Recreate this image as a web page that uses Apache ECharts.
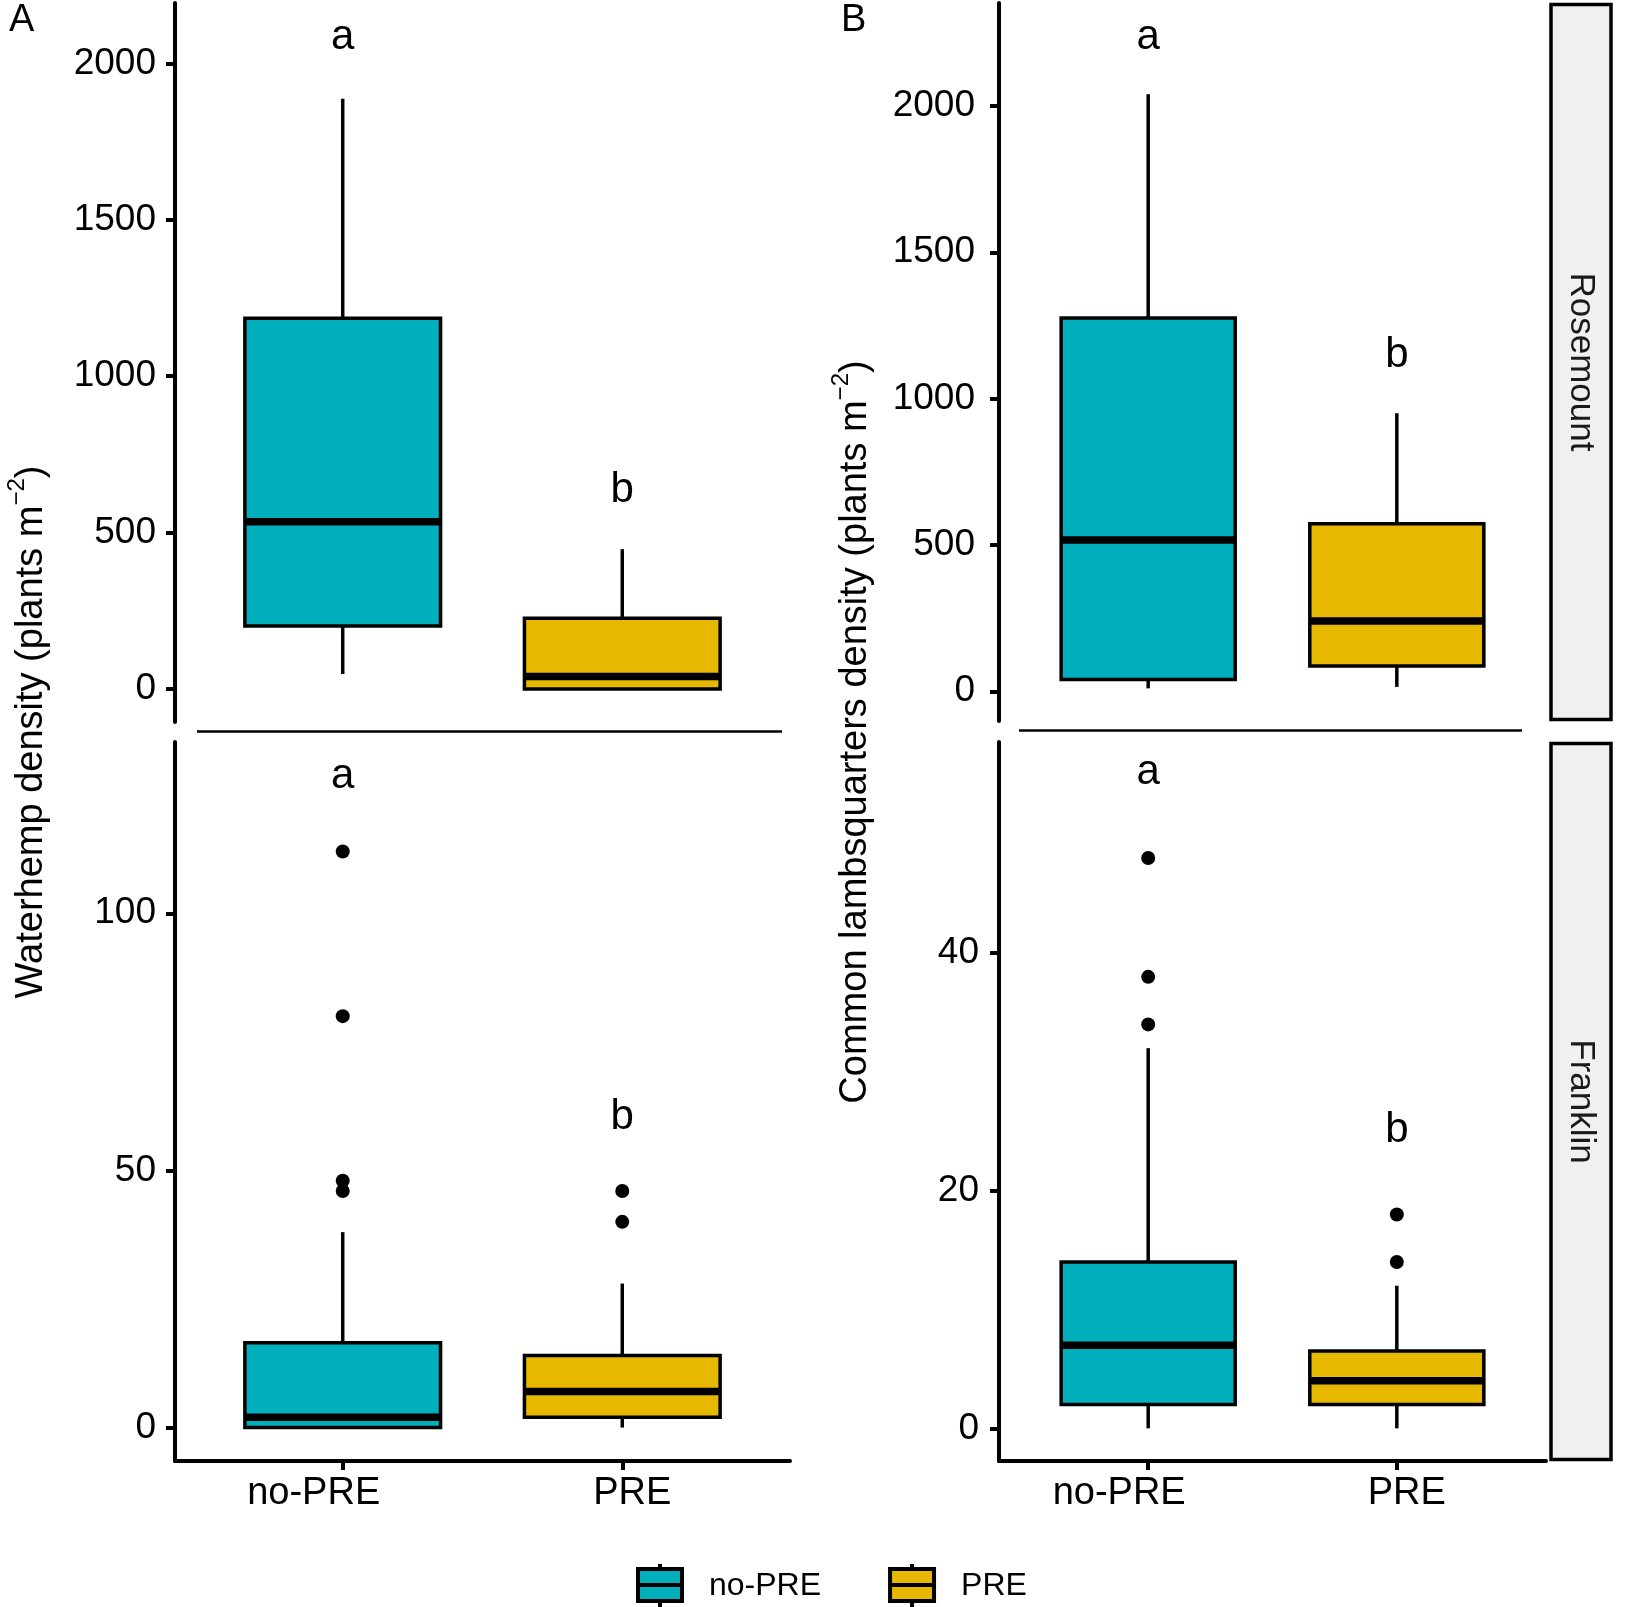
<!DOCTYPE html>
<html><head><meta charset="utf-8">
<script src="https://cdn.jsdelivr.net/npm/echarts@6/dist/echarts.min.js"></script>
<style>html,body{margin:0;padding:0;background:#fff}#c{width:1633px;height:1607px}</style>
</head><body><div id="c"></div>
<script>
// ---------- data ----------
const categories = ['no-PRE', 'PRE'];
const groupColors = ['#00AFBB', '#E7B800'];
// box stats per group: [lower whisker, Q1, median, Q3, upper whisker]
const waterhempRosemount = [[48, 201, 535, 1185, 1887], [0, 0, 40, 226, 447]];
const waterhempFranklin  = [[0, 0, 2, 16.5, 38], [0, 2, 7, 14, 28]];
const lambsRosemount     = [[10, 40, 517, 1275, 2040], [15, 86, 240, 572, 950]];
const lambsFranklin      = [[0, 2, 7, 14, 32], [0, 2, 4, 6.5, 12]];
// outliers per group
const waterhempRosemountOutliers = [[], []];
const waterhempFranklinOutliers  = [[112, 80, 48, 46], [46, 40]];
const lambsRosemountOutliers     = [[], []];
const lambsFranklinOutliers      = [[48, 38, 34], [18, 14]];
// significance letters per group: [letter, value]
const waterhempRosemountLetters = [['a', 2084], ['b', 636]];
const waterhempFranklinLetters  = [['a', 126.7], ['b', 60.4]];
const lambsRosemountLetters     = [['a', 2235], ['b', 1149]];
const lambsFranklinLetters      = [['a', 55.2], ['b', 25.1]];
// y tick labels
const ticksRosemount = [0, 500, 1000, 1500, 2000];
const ticksWaterhempFranklin = [0, 50, 100];
const ticksLambsFranklin = [0, 20, 40];
const locations = ['Rosemount', 'Franklin'];
const panelLetters = ['A', 'B'];
const yTitleA = 'Waterhemp density (plants m{sup|\u22122})';
const yTitleB = 'Common lambsquarters density (plants m{sup|\u22122})';

// ---------- layout ----------
const FONT = 'Liberation Sans, Arial, sans-serif';
const BOX_WIDTH = 0.7;
const LW = 3.5;
const panels = [
  {grid: {left: 175, top: 3, width: 615, height: 719}, y: [-105.5, 2193], ticks: ticksRosemount, box: waterhempRosemount, out: waterhempRosemountOutliers, let: waterhempRosemountLetters, bottom: false, labelMargin: 19},
  {grid: {left: 175, top: 742, width: 615, height: 719}, y: [-6.5, 133.3], ticks: ticksWaterhempFranklin, box: waterhempFranklin, out: waterhempFranklinOutliers, let: waterhempFranklinLetters, bottom: true, labelMargin: 19},
  {grid: {left: 999, top: 3, width: 547, height: 718}, y: [-101.5, 2351.6], ticks: ticksRosemount, box: lambsRosemount, out: lambsRosemountOutliers, let: lambsRosemountLetters, bottom: false, labelMargin: 24},
  {grid: {left: 999, top: 742, width: 547, height: 719}, y: [-2.75, 57.77], ticks: ticksLambsFranklin, box: lambsFranklin, out: lambsFranklinOutliers, let: lambsFranklinLetters, bottom: true, labelMargin: 20}
];
const xLabelPad = [[0, 58, 0, 0], [0, 0, 0, 20]];

function renderBox(params, api) {
  const x = api.value(0);
  const lo = api.coord([x, api.value(1)]);
  const q1 = api.coord([x, api.value(2)]);
  const md = api.coord([x, api.value(3)]);
  const q3 = api.coord([x, api.value(4)]);
  const hi = api.coord([x, api.value(5)]);
  const w = api.size([BOX_WIDTH, 0])[0];
  const cx = md[0];
  const color = api.visual('color');
  return {type: 'group', children: [
    {type: 'line', shape: {x1: cx, y1: hi[1], x2: cx, y2: q3[1]}, style: {stroke: '#000', lineWidth: LW}},
    {type: 'line', shape: {x1: cx, y1: q1[1], x2: cx, y2: lo[1]}, style: {stroke: '#000', lineWidth: LW}},
    {type: 'rect', shape: {x: cx - w / 2, y: q3[1], width: w, height: q1[1] - q3[1]}, style: {fill: color, stroke: '#000', lineWidth: LW}},
    {type: 'line', shape: {x1: cx - w / 2, y1: md[1], x2: cx + w / 2, y2: md[1]}, style: {stroke: '#000', lineWidth: 7.5}}
  ]};
}

const grids = [], xAxes = [], yAxes = [], series = [];
panels.forEach((p, i) => {
  grids.push(Object.assign({containLabel: false}, p.grid));
  xAxes.push({
    type: 'value', gridIndex: i, min: 0.4, max: 2.6, show: p.bottom,
    axisLine: {show: true, onZero: false, lineStyle: {color: '#000', width: 4}},
    axisTick: {show: true, length: 9, customValues: [1, 2], lineStyle: {color: '#000', width: 4}},
    axisLabel: {
      show: true, customValues: [1, 2], margin: 14,
      formatter: v => '{c' + (v - 1) + '|' + categories[v - 1] + '}',
      rich: {
        c0: {fontSize: 38, fontFamily: FONT, color: '#000', padding: xLabelPad[0]},
        c1: {fontSize: 38, fontFamily: FONT, color: '#000', padding: xLabelPad[1]}
      }
    },
    splitLine: {show: false}
  });
  yAxes.push({
    type: 'value', gridIndex: i, min: p.y[0], max: p.y[1],
    axisLine: {show: true, lineStyle: {color: '#000', width: 4}},
    axisTick: {show: true, length: 9, customValues: p.ticks, lineStyle: {color: '#000', width: 4}},
    axisLabel: {customValues: p.ticks, formatter: v => String(v), fontSize: 37, fontFamily: FONT, color: '#000', margin: p.labelMargin},
    splitLine: {show: false}
  });
  categories.forEach((cat, g) => {
    series.push({
      type: 'custom', name: cat, xAxisIndex: i, yAxisIndex: i,
      itemStyle: {color: groupColors[g]},
      renderItem: renderBox,
      encode: {x: 0, y: [1, 2, 3, 4, 5]},
      data: [[g + 1].concat(p.box[g])],
      z: 2
    });
    series.push({
      type: 'scatter', name: 'outliers', xAxisIndex: i, yAxisIndex: i,
      symbolSize: 14, itemStyle: {color: '#000', opacity: 1},
      data: p.out[g].map(v => [g + 1, v]), z: 3
    });
  });
  series.push({
    type: 'scatter', name: 'letters', xAxisIndex: i, yAxisIndex: i,
    symbolSize: 0, itemStyle: {opacity: 1},
    label: {show: true, position: 'inside', formatter: q => q.value[2], fontSize: 42, fontFamily: FONT, color: '#000', opacity: 1},
    data: p.let.map((l, g) => [g + 1, l[1], l[0]]), z: 4
  });
});

// hidden grids carrying the shared y-axis titles
[[175, 615, yTitleA], [999, 547, yTitleB]].forEach((t, k) => {
  const gi = grids.length;
  grids.push({left: t[0], top: 3, width: t[1], height: 1458});
  xAxes.push({type: 'value', gridIndex: gi, show: false, min: 0, max: 1});
  yAxes.push({
    type: 'value', gridIndex: gi, min: 0, max: 1,
    axisLine: {show: false}, axisTick: {show: false}, axisLabel: {show: false}, splitLine: {show: false},
    name: t[2], nameLocation: 'middle', nameGap: 116,
    nameTextStyle: {
      fontSize: 38, fontFamily: FONT, color: '#000',
      rich: {sup: {fontSize: 24, fontFamily: FONT, color: '#000', padding: [0, 0, 30, 0]}}
    }
  });
});

const legendIcon = 'path://M0,5L44,5L44,37L0,37Z M0,21L44,21 M22,0L22,5 M22,37L22,45';

const strips = [];
[[3, 721], [742, 1461]].forEach((s, k) => {
  strips.push({type: 'rect', shape: {x: 1551, y: s[0] + 1.5, width: 60, height: s[1] - s[0] - 3},
    style: {fill: '#F0F0F0', stroke: '#000', lineWidth: 3.5}, z: 10});
  strips.push({type: 'text', x: 1581, y: (s[0] + s[1]) / 2, rotation: -Math.PI / 2,
    style: {text: locations[k], fontSize: 35, fontFamily: FONT, fill: '#1a1a1a', align: 'center', verticalAlign: 'middle'}, z: 11});
});
strips.push({type: 'line', shape: {x1: 197, y1: 731.5, x2: 782, y2: 731.5}, style: {stroke: '#000', lineWidth: 2.5}, z: 10});
strips.push({type: 'line', shape: {x1: 1019, y1: 730.5, x2: 1522, y2: 730.5}, style: {stroke: '#000', lineWidth: 2.5}, z: 10});

const option = {
  backgroundColor: '#fff',
  animation: false,
  title: [
    {text: panelLetters[0], left: 9, top: 2, padding: 0, textStyle: {fontSize: 38, fontWeight: 'normal', fontFamily: FONT, color: '#000'}},
    {text: panelLetters[1], left: 841, top: 2, padding: 0, textStyle: {fontSize: 38, fontWeight: 'normal', fontFamily: FONT, color: '#000'}}
  ],
  legend: {
    left: 636, top: 1562, padding: 0, itemWidth: 44, itemHeight: 45, itemGap: 67,
    selectedMode: false,
    textStyle: {fontSize: 32, fontFamily: FONT, color: '#000', padding: [0, 0, 0, 22]},
    data: categories.map((c, g) => ({name: c, icon: legendIcon,
      itemStyle: {color: groupColors[g], borderColor: '#000', borderWidth: 4}}))
  },
  grid: grids,
  xAxis: xAxes,
  yAxis: yAxes,
  series: series,
  graphic: strips
};

const chart = echarts.init(document.getElementById('c'), null, {renderer: 'canvas'});
chart.setOption(option);
</script>
</body></html>
